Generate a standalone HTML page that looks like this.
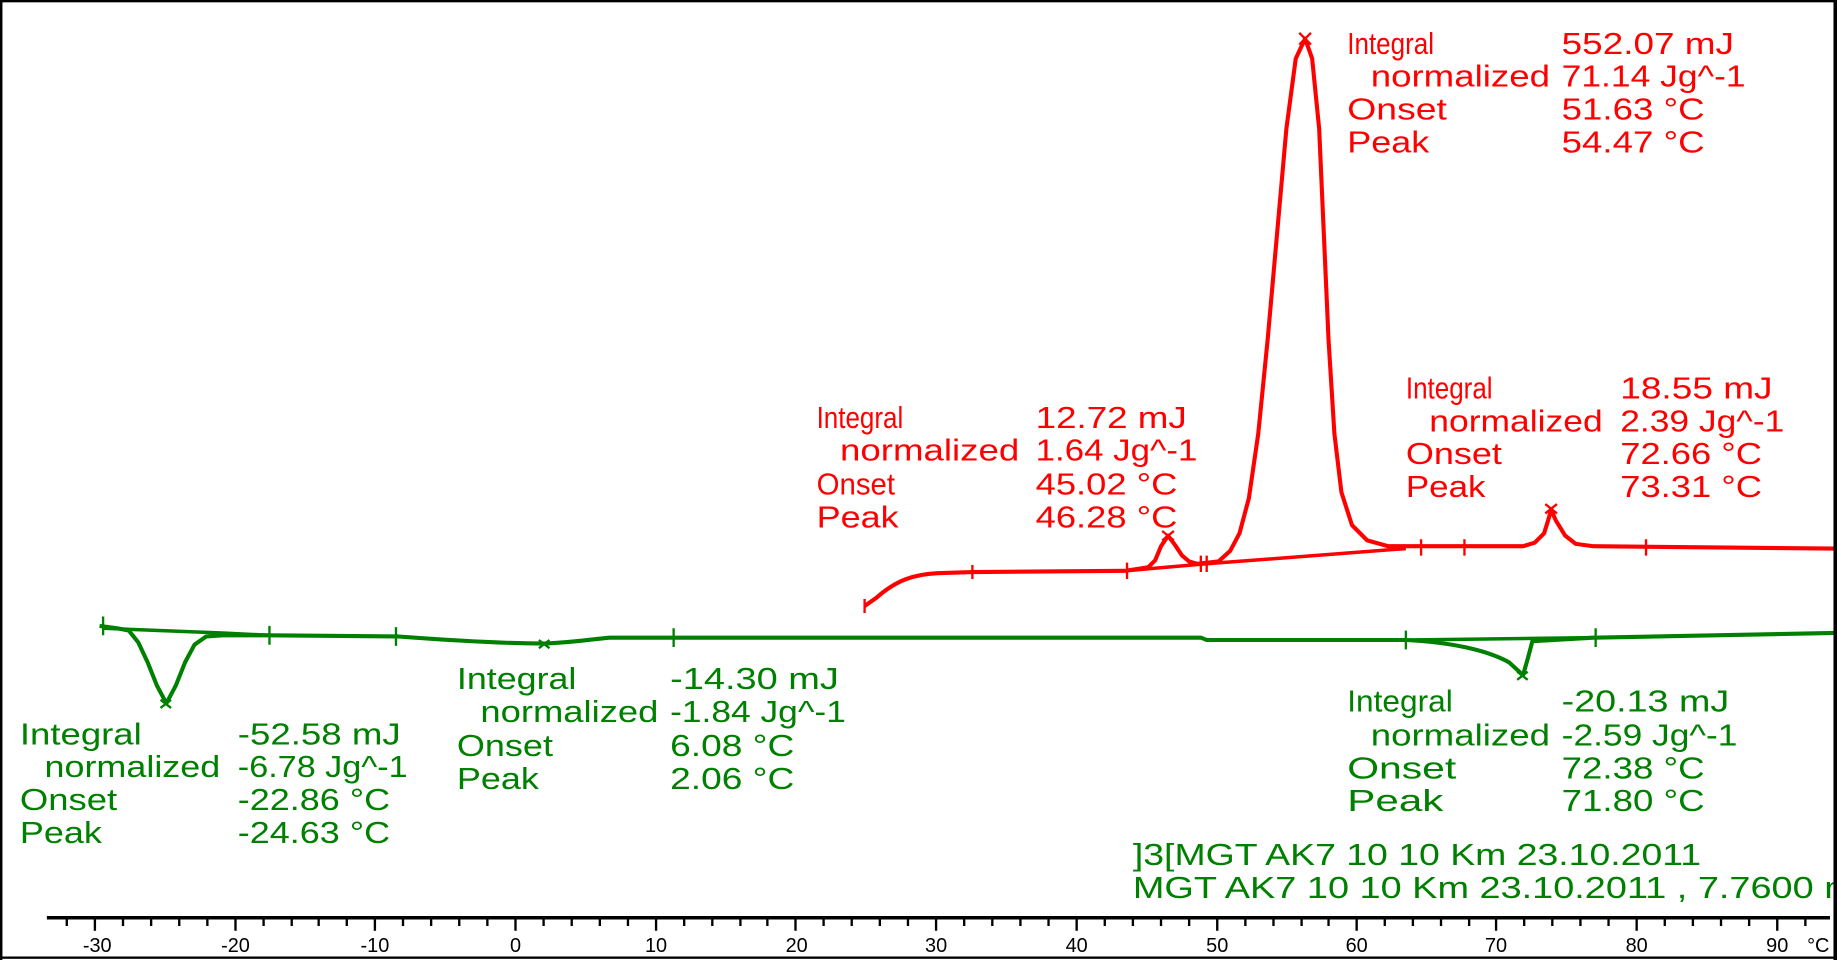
<!DOCTYPE html>
<html><head><meta charset="utf-8"><style>
html,body{margin:0;padding:0;background:#fff;}
svg{display:block;}
text{font-family:"Liberation Sans",sans-serif;font-size:26px;}
.r{fill:#ff0000;} .g{fill:#008000;}
.t text{font-size:17px;}
</style></head><body>
<svg width="1837" height="960" viewBox="0 0 1568 819" preserveAspectRatio="none" xmlns="http://www.w3.org/2000/svg">
<rect x="1" y="1" width="1565" height="816" fill="#fff" stroke="#000" stroke-width="2"/>
<line x1="40" y1="783" x2="1562" y2="783" stroke="#000" stroke-width="3"/>
<path stroke="#000" stroke-width="2" d="M57,783v7 M81,783v11 M105,783v7 M129,783v7 M153,783v7 M177,783v7 M201,783v11 M225,783v7 M249,783v7 M272,783v7 M296,783v7 M320,783v11 M344,783v7 M368,783v7 M392,783v7 M416,783v7 M440,783v11 M464,783v7 M488,783v7 M512,783v7 M536,783v7 M560,783v11 M584,783v7 M608,783v7 M632,783v7 M655,783v7 M679,783v11 M703,783v7 M727,783v7 M751,783v7 M775,783v7 M799,783v11 M823,783v7 M847,783v7 M871,783v7 M895,783v7 M919,783v11 M943,783v7 M967,783v7 M991,783v7 M1015,783v7 M1039,783v11 M1063,783v7 M1087,783v7 M1111,783v7 M1134,783v7 M1158,783v11 M1182,783v7 M1206,783v7 M1230,783v7 M1254,783v7 M1277,783v11 M1301,783v7 M1325,783v7 M1349,783v7 M1373,783v7 M1397,783v11 M1421,783v7 M1445,783v7 M1469,783v7 M1493,783v7 M1517,783v11 M1541,783v7"/>
<g class="t" text-anchor="middle">
<text x="83" y="812">-30</text>
<text x="201" y="812">-20</text>
<text x="320" y="812">-10</text>
<text x="440" y="812">0</text>
<text x="560" y="812">10</text>
<text x="680" y="812">20</text>
<text x="799" y="812">30</text>
<text x="919" y="812">40</text>
<text x="1039" y="812">50</text>
<text x="1158" y="812">60</text>
<text x="1277" y="812">70</text>
<text x="1397" y="812">80</text>
<text x="1517" y="812">90</text>
<text x="1552" y="812">°C</text>
</g>
<g fill="none" stroke="#ff0000" stroke-width="3.5" stroke-linejoin="round">
<path d="M738,517 L748,510 C765,495 780,490 800,489 L830,488 L960,487 L980,484 L986,478 L991,466 L997,457 L1003,465 L1009,474 L1015,479 L1022,481 L1040,479 L1050,470 L1058,455 L1066,425 L1074,370 L1082,290 L1090,200 L1098,110 L1106,50 L1114,33 L1120,50 L1126,110 L1130,200 L1134,290 L1139,370 L1145,420 L1154,448 L1167,461 L1185,466 L1300,466 L1310,463 L1318,455 L1322,442 L1324,435 L1328,444 L1336,457 L1345,464 L1360,466 L1566,468"/>
<path d="M960,487 L1030,481 L1200,468" stroke-width="3"/>
<path d="M738,511 v12 M830,482 v12 M962,480 v14 M1025,474 v14 M1030,474 v14 M1213,460 v14 M1250,460 v14 M1405,460 v14" stroke-width="2"/>
<path d="M1109,28 l10,10 M1119,28 l-10,10 M992,453 l10,8 M1002,453 l-10,8 M1319,430 l10,8 M1329,430 l-10,8" stroke-width="2"/>
</g>
<g fill="none" stroke="#008000" stroke-width="3.5" stroke-linejoin="round">
<path d="M85,534 L100,536 L110,538 L118,548 L126,565 L134,585 L142,600 L150,585 L158,565 L166,550 L176,543 L190,542 L230,542 L340,543 C380,546 430,549 465,549 C490,548 500,546 520,544 L575,544 L1025,544 L1030,546 L1200,546 C1240,548 1270,555 1288,565 L1300,576 L1304,562 L1308,547 L1360,544 L1566,540"/>
<path d="M88,536 L190,540 L230,542 M1200,546 L1360,544" stroke-width="3"/>
<path d="M88,526 v16 M230,534 v16 M338,535 v16 M575,536 v16 M1200,538 v16 M1362,536 v16" stroke-width="2"/>
<path d="M137,597 l9,7 M146,597 l-9,7 M460,546 l9,7 M469,546 l-9,7 M1295,573 l9,7 M1304,573 l-9,7" stroke-width="2"/>
</g>
<g class="r">
<text x="697" y="365" textLength="74" lengthAdjust="spacingAndGlyphs">Integral</text><text x="884" y="365" textLength="129" lengthAdjust="spacingAndGlyphs">12.72 mJ</text>
<text x="717" y="393" textLength="153" lengthAdjust="spacingAndGlyphs">normalized</text><text x="884" y="393" textLength="138" lengthAdjust="spacingAndGlyphs">1.64 Jg^-1</text>
<text x="697" y="422" textLength="67" lengthAdjust="spacingAndGlyphs">Onset</text><text x="884" y="422" textLength="121" lengthAdjust="spacingAndGlyphs">45.02 °C</text>
<text x="697" y="450" textLength="70" lengthAdjust="spacingAndGlyphs">Peak</text><text x="884" y="450" textLength="121" lengthAdjust="spacingAndGlyphs">46.28 °C</text>
<text x="1150" y="46" textLength="74" lengthAdjust="spacingAndGlyphs">Integral</text><text x="1333" y="46" textLength="147" lengthAdjust="spacingAndGlyphs">552.07 mJ</text>
<text x="1170" y="74" textLength="153" lengthAdjust="spacingAndGlyphs">normalized</text><text x="1333" y="74" textLength="157" lengthAdjust="spacingAndGlyphs">71.14 Jg^-1</text>
<text x="1150" y="102" textLength="85" lengthAdjust="spacingAndGlyphs">Onset</text><text x="1333" y="102" textLength="122" lengthAdjust="spacingAndGlyphs">51.63 °C</text>
<text x="1150" y="130" textLength="70" lengthAdjust="spacingAndGlyphs">Peak</text><text x="1333" y="130" textLength="122" lengthAdjust="spacingAndGlyphs">54.47 °C</text>
<text x="1200" y="340" textLength="74" lengthAdjust="spacingAndGlyphs">Integral</text><text x="1383" y="340" textLength="130" lengthAdjust="spacingAndGlyphs">18.55 mJ</text>
<text x="1220" y="368" textLength="148" lengthAdjust="spacingAndGlyphs">normalized</text><text x="1383" y="368" textLength="140" lengthAdjust="spacingAndGlyphs">2.39 Jg^-1</text>
<text x="1200" y="396" textLength="82" lengthAdjust="spacingAndGlyphs">Onset</text><text x="1383" y="396" textLength="121" lengthAdjust="spacingAndGlyphs">72.66 °C</text>
<text x="1200" y="424" textLength="68" lengthAdjust="spacingAndGlyphs">Peak</text><text x="1383" y="424" textLength="121" lengthAdjust="spacingAndGlyphs">73.31 °C</text>
</g>
<g class="g">
<text x="17" y="635" textLength="104" lengthAdjust="spacingAndGlyphs">Integral</text><text x="203" y="635" textLength="139" lengthAdjust="spacingAndGlyphs">-52.58 mJ</text>
<text x="38" y="663" textLength="150" lengthAdjust="spacingAndGlyphs">normalized</text><text x="203" y="663" textLength="145" lengthAdjust="spacingAndGlyphs">-6.78 Jg^-1</text>
<text x="17" y="691" textLength="83" lengthAdjust="spacingAndGlyphs">Onset</text><text x="203" y="691" textLength="130" lengthAdjust="spacingAndGlyphs">-22.86 °C</text>
<text x="17" y="719" textLength="70" lengthAdjust="spacingAndGlyphs">Peak</text><text x="203" y="719" textLength="130" lengthAdjust="spacingAndGlyphs">-24.63 °C</text>
<text x="390" y="588" textLength="102" lengthAdjust="spacingAndGlyphs">Integral</text><text x="572" y="588" textLength="144" lengthAdjust="spacingAndGlyphs">-14.30 mJ</text>
<text x="410" y="616" textLength="152" lengthAdjust="spacingAndGlyphs">normalized</text><text x="572" y="616" textLength="150" lengthAdjust="spacingAndGlyphs">-1.84 Jg^-1</text>
<text x="390" y="645" textLength="82" lengthAdjust="spacingAndGlyphs">Onset</text><text x="572" y="645" textLength="106" lengthAdjust="spacingAndGlyphs">6.08 °C</text>
<text x="390" y="673" textLength="70" lengthAdjust="spacingAndGlyphs">Peak</text><text x="572" y="673" textLength="106" lengthAdjust="spacingAndGlyphs">2.06 °C</text>
<text x="1150" y="607" textLength="90" lengthAdjust="spacingAndGlyphs">Integral</text><text x="1333" y="607" textLength="143" lengthAdjust="spacingAndGlyphs">-20.13 mJ</text>
<text x="1170" y="636" textLength="153" lengthAdjust="spacingAndGlyphs">normalized</text><text x="1333" y="636" textLength="150" lengthAdjust="spacingAndGlyphs">-2.59 Jg^-1</text>
<text x="1150" y="664" textLength="93" lengthAdjust="spacingAndGlyphs">Onset</text><text x="1333" y="664" textLength="122" lengthAdjust="spacingAndGlyphs">72.38 °C</text>
<text x="1150" y="692" textLength="82" lengthAdjust="spacingAndGlyphs">Peak</text><text x="1333" y="692" textLength="122" lengthAdjust="spacingAndGlyphs">71.80 °C</text>
<text x="967" y="738" textLength="485" lengthAdjust="spacingAndGlyphs">]3[MGT AK7 10 10 Km 23.10.2011</text>
<text x="967" y="766" textLength="635" lengthAdjust="spacingAndGlyphs">MGT AK7 10 10 Km 23.10.2011 , 7.7600 mg</text>
</g>
<rect x="1565" y="0" width="3" height="819" fill="#000"/>
<rect x="0" y="0" width="2" height="819" fill="#000"/>
</svg>
</body></html>
